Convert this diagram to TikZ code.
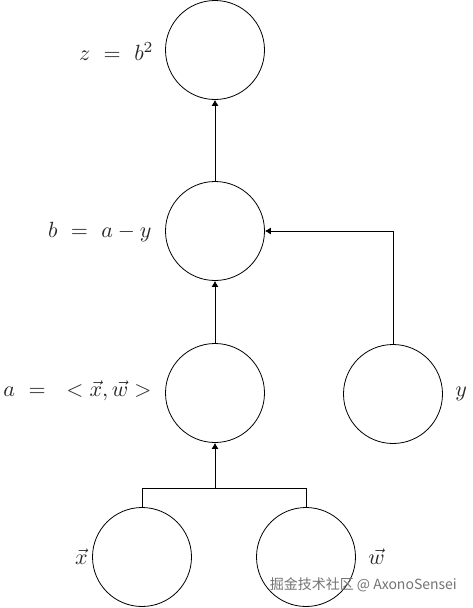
\documentclass[tikz,border=0pt]{standalone}
\usepackage{fontspec}
\newfontfamily\cjk{Noto Sans CJK SC}
\usetikzlibrary{arrows.meta}
\begin{document}
\begin{tikzpicture}[x=1pt,y=-1pt,
  circ/.style={circle,draw,line width=0.8pt,minimum size=99pt,inner sep=0pt},
  lab/.style={inner sep=0pt,text=black!85,scale=2.2},
  conn/.style={line width=0.8pt},
  arr/.style={conn,-{Latex[length=6pt,width=7pt]}}]
\useasboundingbox (0,0) rectangle (473,608);
\node[circ] (z) at (215,50) {};
\node[circ] (b) at (215,231) {};
\node[circ] (a) at (215,393) {};
\node[circ] (y) at (393,394) {};
\node[circ] (x) at (142,557) {};
\node[circ] (w) at (306,557) {};
\node[lab,anchor=east] (lz) at (154,52) {$z\ =\ b^2$};
\node[lab,anchor=east] (lb) at (152,232) {$b\ =\ a-y$};
\node[lab,anchor=east] (la) at (152,391) {$a\ =\ \ \;<\vec{x},\vec{w}>$};
\node[lab,anchor=west] (ly) at (455,394) {$y$};
\node[lab,anchor=east] (lx) at (88,557) {$\vec{x}$};
\node[lab,anchor=west] (lw) at (368,557) {$\vec{w}$};
\node[inner sep=0pt,anchor=east,text=black!55,font=\cjk\fontsize{14}{16}\selectfont] (wm) at (457,585) {掘金技术社区 @ AxonoSensei};
\coordinate (j) at (215,488);
\draw[arr] (a.north) -- (b.south);
\draw[arr] (b.north) -- (z.south);
\draw[arr] (y.north) |- (b.east);
\draw[conn] (x.north) -- (x.north |- j) -- (w.north |- j) -- (w.north);
\draw[arr] (j) -- (a.south);
\end{tikzpicture}
\end{document}
